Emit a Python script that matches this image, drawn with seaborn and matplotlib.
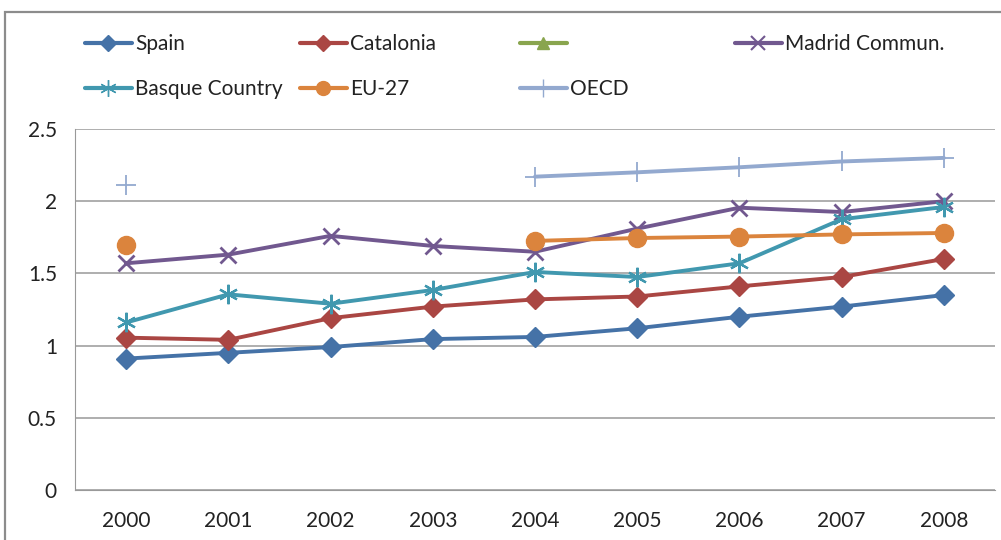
import numpy as np
import pandas as pd
import matplotlib
matplotlib.use("Agg")
import matplotlib.pyplot as plt
from matplotlib.lines import Line2D
from matplotlib.patches import Rectangle
import seaborn as sns

years = ["2000", "2001", "2002", "2003", "2004", "2005", "2006", "2007", "2008"]
spain = [0.91, 0.95, 0.99, 1.045, 1.06, 1.12, 1.20, 1.27, 1.35]
catalonia = [1.055, 1.04, 1.19, 1.27, 1.32, 1.34, 1.41, 1.475, 1.60]
madrid = [1.57, 1.63, 1.76, 1.69, 1.65, 1.81, 1.955, 1.925, 2.00]
basque = [1.16, 1.355, 1.29, 1.385, 1.51, 1.475, 1.57, 1.875, 1.96]
eu27 = [1.70, np.nan, np.nan, np.nan, 1.725, 1.745, 1.755, 1.77, 1.78]
oecd = [2.11, np.nan, np.nan, np.nan, 2.17, 2.20, 2.235, 2.275, 2.30]

sns.set_style("white")
plt.rcParams['font.family'] = ['Lato', 'DejaVu Sans']

fig = plt.figure(figsize=(10.01, 5.40), dpi=100)
W, H = 1001, 540
ax = fig.add_axes([75 / W, (H - 490) / H, (995 - 75) / W, (490 - 129) / H])

# outer chart frame
fig.patches.append(Rectangle((5 / W, -0.1), 1.2, (H - 12) / H + 0.1, transform=fig.transFigure,
                             fill=False, edgecolor='#8c8c8c', linewidth=1.6))

series = [
    ("Spain", spain, '#4572A7', 'D', 10, 1),
    ("Catalonia", catalonia, '#AA4643', 'D', 10, 1),
    ("Madrid Commun.", madrid, '#71588F', 'x', 12, 2),
    ("Basque Country", basque, '#4198AF', (6, 2, 0), 14, 1.6),
    ("EU-27", eu27, '#DB843D', 'o', 13, 1),
    ("OECD", oecd, '#93A9CF', '+', 14, 1.3),
]

x = np.arange(len(years))
for name, vals, col, mk, ms, mew in series:
    df = pd.DataFrame({"x": x, "y": vals})
    # split into contiguous runs so gaps are not joined
    grp = df["y"].isna().cumsum()
    for _, seg in df.dropna().groupby(grp[df["y"].notna()]):
        sns.lineplot(data=seg, x="x", y="y", ax=ax, color=col, linewidth=2.8,
                     marker=mk, markersize=ms, markeredgewidth=mew,
                     markeredgecolor=col, markerfacecolor=col)

ax.set_xlim(-0.5, len(years) - 0.5)
ax.set_ylim(0, 2.5)
ax.set_yticks([0, 0.5, 1, 1.5, 2, 2.5])
ax.set_yticklabels(["0", "0.5", "1", "1.5", "2", "2.5"])
ax.set_xticks(x)
ax.set_xticklabels(years)
ax.set_xlabel("")
ax.set_ylabel("")
ax.yaxis.grid(True, color='#999999', linewidth=1.1)
ax.set_axisbelow(True)
for s in ['top', 'right']:
    ax.spines[s].set_visible(False)
ax.spines['left'].set_color('#999999')
ax.spines['bottom'].set_color('#999999')
ax.tick_params(axis='x', which='major', length=0, labelsize=15, colors='#222222', pad=15)
ax.tick_params(axis='y', which='major', length=7, width=1.1, color='#999999',
               labelsize=15, labelcolor='#222222', pad=6, direction='out')
ax.set_xticks(np.arange(len(years) + 1) - 0.5, minor=True)
ax.tick_params(axis='x', which='minor', length=7, width=1.1, color='#999999', direction='out')

# legend, four columns of two rows
def h(col, mk, ms, mew):
    return Line2D([0], [0], color=col, linewidth=3, marker=mk, markersize=ms,
                  markeredgewidth=mew, markeredgecolor=col, markerfacecolor=col)

cols = [
    (85, [("Spain", h('#4572A7', 'D', 8, 1)), ("Basque Country", h('#4198AF', (6, 2, 0), 12, 1))]),
    (300, [("Catalonia", h('#AA4643', 'D', 8, 1)), ("EU-27", h('#DB843D', 'o', 10, 1))]),
    (520, [("", h('#89A54E', '^', 9, 1)), ("OECD", h('#93A9CF', '+', 13, 1))]),
    (735, [("Madrid Commun.", h('#71588F', 'x', 10, 1.5))]),
]
for xpos, items in cols:
    fig.legend([it[1] for it in items], [it[0] for it in items], loc='upper left',
               bbox_to_anchor=(xpos / W, (H - 34) / H), frameon=False, fontsize=15,
               handlelength=2.25, handletextpad=0.15, labelspacing=1.2, borderpad=0,
               borderaxespad=0, labelcolor='#222222')

fig.savefig("out.png", dpi=100)
